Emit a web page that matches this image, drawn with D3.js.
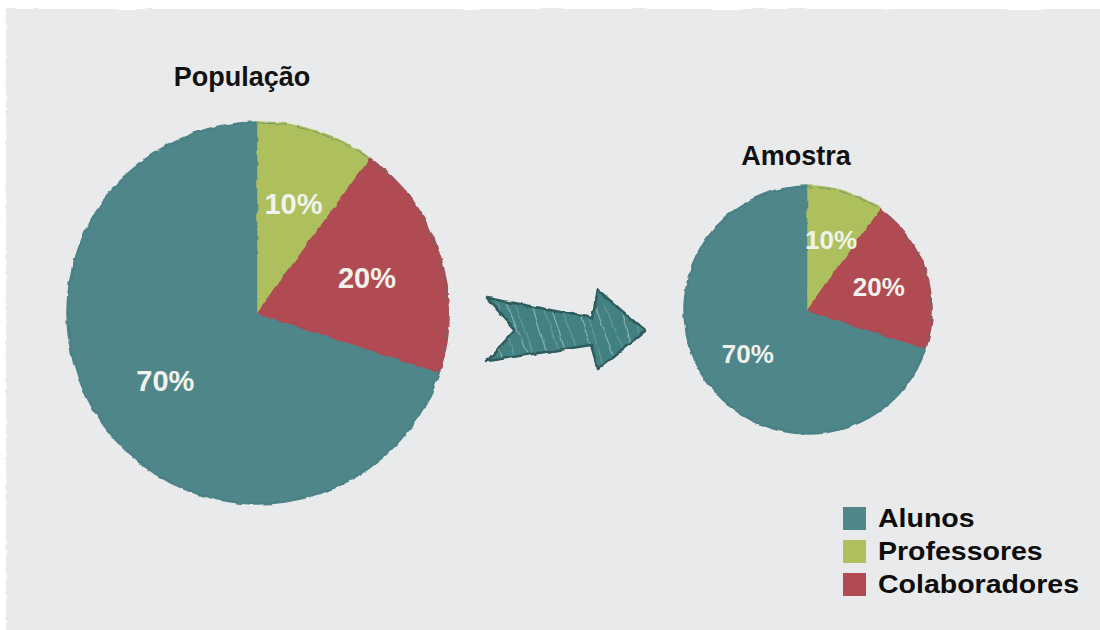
<!DOCTYPE html>
<html>
<head>
<meta charset="utf-8">
<script src="https://cdn.jsdelivr.net/npm/d3@7/dist/d3.min.js"></script>
<style>
  html, body { margin: 0; padding: 0; background: #ffffff; }
  svg { display: block; }
  text { font-family: "Liberation Sans", Arial, sans-serif; font-weight: bold; }
</style>
</head>
<body>
<svg id="chart" width="1100" height="630"></svg>
<script>
// Group shares, same for the population and for the sample
const categories = ["Alunos", "Professores", "Colaboradores"];
const populationValues = [70, 10, 20];
const sampleValues = [70, 10, 20];
const percentLabels = ["70%", "10%", "20%"];
// Slices run clockwise from 12 o'clock in this order
const sliceOrder = ["Professores", "Colaboradores", "Alunos"];
const colors = ["#4f868a", "#adc05d", "#b04b53"];
const titles = ["População", "Amostra"];

const W = 1100, H = 630;
const svg = d3.select("#chart");

const color = d3.scaleOrdinal().domain(categories).range(colors);

// Rough, hand-drawn edges
const defs = svg.append("defs");
const rough = defs.append("filter").attr("id", "rough")
  .attr("x", "-5%").attr("y", "-5%").attr("width", "110%").attr("height", "110%");
rough.append("feTurbulence").attr("type", "fractalNoise")
  .attr("baseFrequency", 0.09).attr("numOctaves", 2).attr("seed", 3).attr("result", "noise");
rough.append("feDisplacementMap").attr("in", "SourceGraphic").attr("in2", "noise")
  .attr("scale", 4).attr("xChannelSelector", "R").attr("yChannelSelector", "G");

const paper = defs.append("filter").attr("id", "paper")
  .attr("x", "-2%").attr("y", "-2%").attr("width", "104%").attr("height", "104%");
paper.append("feTurbulence").attr("type", "fractalNoise")
  .attr("baseFrequency", "0.02 0.2").attr("numOctaves", 2).attr("seed", 8).attr("result", "n");
paper.append("feDisplacementMap").attr("in", "SourceGraphic").attr("in2", "n")
  .attr("scale", 4).attr("xChannelSelector", "R").attr("yChannelSelector", "G");

// Grey board: torn top/left edge plus a solid body reaching the bottom and right
svg.append("rect")
  .attr("x", 6).attr("y", 9).attr("width", W + 30).attr("height", H + 40)
  .attr("fill", "#e9eaeb").attr("filter", "url(#paper)");
svg.append("rect")
  .attr("x", 9).attr("y", 14).attr("width", W).attr("height", H)
  .attr("fill", "#e9eaeb");

const pie = d3.pie()
  .sort((a, b) => sliceOrder.indexOf(a.cat) - sliceOrder.indexOf(b.cat))
  .value(d => d.value);

function drawPie(values, cx, cy, r, title, titleX, titleY, labelSize) {
  const data = categories.map((c, i) => ({ cat: c, value: values[i], label: percentLabels[i] }));
  const arcs = pie(data);
  const arc = d3.arc().innerRadius(0).outerRadius(r);
  const labelArc = d3.arc().innerRadius(r * 0.6).outerRadius(r * 0.6);

  const g = svg.append("g").attr("transform", `translate(${cx},${cy})`);
  const slices = g.append("g").attr("filter", "url(#rough)");
  slices.selectAll("path").data(arcs).join("path")
    .attr("d", arc)
    .attr("fill", d => color(d.data.cat))
    .attr("stroke", d => color(d.data.cat))
    .attr("stroke-width", 1.5);
  // faint sketch stroke along the rim
  slices.append("circle").attr("r", r - 1).attr("fill", "none")
    .attr("stroke", "#3f7479").attr("stroke-width", 1).attr("stroke-opacity", 0.5)
    .attr("stroke-dasharray", "40 6 18 4");

  g.selectAll("text.pct").data(arcs).join("text")
    .attr("class", "pct")
    .attr("transform", d => `translate(${labelArc.centroid(d)})`)
    .attr("text-anchor", "middle").attr("dy", "0.36em")
    .attr("font-size", labelSize).attr("fill", "#f1f2ec")
    .text(d => d.data.label);

  svg.append("text")
    .attr("x", titleX).attr("y", titleY).attr("text-anchor", "middle")
    .attr("font-size", 27).attr("fill", "#111111")
    .text(title);
}

drawPie(populationValues, 258, 313, 191, titles[0], 242, 86, 29);
drawPie(sampleValues, 808, 310, 124, titles[1], 796, 165, 26);

// Arrow pointing from population to sample
const arrowPts = [[487, 298], [515, 330], [487, 361], [591, 345], [598, 369], [645, 331], [598, 290], [592, 318]];
const arrowG = svg.append("g").attr("filter", "url(#rough)");
defs.append("clipPath").attr("id", "arrowClip")
  .append("path").attr("d", d3.line()(arrowPts) + "Z");
arrowG.append("path").attr("d", d3.line()(arrowPts) + "Z")
  .attr("fill", "#438082");
const hatch = arrowG.append("g").attr("clip-path", "url(#arrowClip)");
d3.range(482, 660, 11).forEach((x, i) => {
  hatch.append("line")
    .attr("x1", x).attr("y1", 285 + (i % 4) * 6).attr("x2", x + 24).attr("y2", 372 - (i % 3) * 8)
    .attr("stroke", i % 2 === 0 ? "#a9cbc8" : "#72a6a5")
    .attr("stroke-width", 1.2).attr("stroke-opacity", 0.65);
});
arrowG.append("path").attr("d", d3.line()(arrowPts) + "Z")
  .attr("fill", "none").attr("stroke", "#2d5b5c").attr("stroke-width", 2.5)
  .attr("stroke-linejoin", "round");

// Legend
const legend = svg.append("g").attr("transform", "translate(843,507)");
const rows = legend.selectAll("g").data(categories).join("g")
  .attr("transform", (d, i) => `translate(0,${i * 33})`);
rows.append("rect").attr("width", 23).attr("height", 23)
  .attr("fill", d => color(d));
rows.append("text")
  .attr("transform", "translate(35,20) scale(1.14,1)")
  .attr("font-size", 25).attr("fill", "#0d0d0d")
  .text(d => d);
</script>
</body>
</html>
